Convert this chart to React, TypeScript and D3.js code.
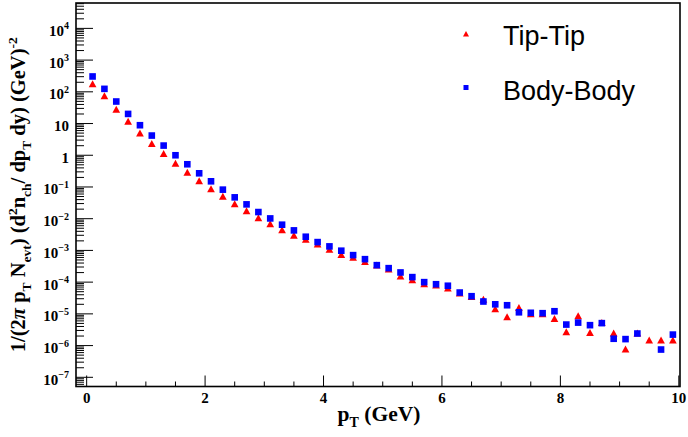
import React from "react";
import * as d3 from "d3";

const pT = [0.1, 0.3, 0.5, 0.7, 0.9, 1.1, 1.3, 1.5, 1.7, 1.9, 2.1, 2.3, 2.5, 2.7, 2.9, 3.1, 3.3, 3.5, 3.7, 3.9, 4.1, 4.3, 4.5, 4.7, 4.9, 5.1, 5.3, 5.5, 5.7, 5.9, 6.1, 6.3, 6.5, 6.7, 6.9, 7.1, 7.3, 7.5, 7.7, 7.9, 8.1, 8.3, 8.5, 8.7, 8.9, 9.1, 9.3, 9.5, 9.7, 9.9];

const tipTip = [174, 72.8, 27.7, 11.6, 4.94, 2.27, 1.1, 0.546, 0.284, 0.154,
  0.0861, 0.0495, 0.029, 0.0174, 0.0105, 0.00676, 0.00437, 0.00291, 0.00218, 0.00155,
  1.07e-3, 7.3e-4, 5.9e-4, 4.4e-4, 3.36e-4, 2.51e-4, 1.51e-4, 1.15e-4, 8.6e-5, 7.9e-5, 6.4e-5, 4.4e-5,
  3.45e-5, 2.84e-5, 1.4e-5, 7.9e-6, 1.55e-5, 9.9e-6, 9.9e-6, 6.9e-6, 2.67e-6, 8.5e-6, 2.52e-6, 5.2e-6, 2.44e-6, 7.6e-7, 2.45e-6, 1.47e-6, 1.47e-6, 1.45e-6];

const bodyBody: (number | null)[] = [305, 124, 49.5, 20.1, 8.85, 4.18, 2.02, 1.0, 0.52, 0.27,
  0.151, 0.0824, 0.0471, 0.0283, 0.0162, 0.0102, 0.00647, 0.00428, 0.0027, 0.00183,
  1.34e-3, 9.8e-4, 7.1e-4, 5.3e-4, 3.43e-4, 2.76e-4, 2.02e-4, 1.44e-4, 1.0e-4, 8.6e-5, 7.7e-5, 4.7e-5,
  3.6e-5, 2.45e-5, 2.0e-5, 1.87e-5, 1.12e-5, 1.08e-5, 1.05e-5, 1.21e-5, 4.6e-6, 5.3e-6, 4.4e-6, 5.1e-6, 1.64e-6, 1.6e-6, 2.4e-6, null, 7.5e-7, 2.22e-6];

const xTickLabels = [0, 2, 4, 6, 8, 10];
const yDecades = [4, 3, 2, 1, 0, -1, -2, -3, -4, -5, -6, -7];
const legendLabels = ["Tip-Tip", "Body-Body"];

const W = 688, H = 437;
const L = 76, R = 680, T = 3, B = 386.5;
const serif = "'Liberation Serif', 'Times New Roman', serif";
const sans = "'Liberation Sans', Arial, Helvetica, sans-serif";

export default function App() {
  const x = d3.scaleLinear().domain([-0.18, 10.02]).range([L, R]);
  const y = d3.scaleLog().domain([Math.pow(10, -7.29), Math.pow(10, 4.8)]).range([B, T]);

  const xMinor = d3.range(0, 10.01, 0.5).filter(v => Math.abs(v / 2 - Math.round(v / 2)) > 1e-6);
  const yMinor: number[] = [];
  for (let e = -8; e <= 4; e++) {
    for (let m = 2; m <= 9; m++) {
      const v = m * Math.pow(10, e);
      const py = y(v);
      if (py >= T && py <= B) yMinor.push(v);
    }
  }

  const tri = (cx: number, cy: number, s: number) =>
    `M${cx},${cy - s * 0.55}L${cx + s * 0.55},${cy + s * 0.45}L${cx - s * 0.55},${cy + s * 0.45}Z`;

  const yLabel = (e: number) => {
    if (e === 0) return <tspan>1</tspan>;
    if (e === 1) return <tspan>10</tspan>;
    return (
      <>
        <tspan>10</tspan>
        <tspan dy={-6.5} fontSize={10}>{e < 0 ? "\u2212" + Math.abs(e) : String(e)}</tspan>
      </>
    );
  };

  return (
    <svg width={W} height={H} style={{ position: "fixed", left: 0, top: 0, background: "#fff" }}>
      <rect x={0} y={0} width={W} height={H} fill="#fff" />
      {yDecades.map(e => (
        <line key={"ym" + e} x1={L} x2={L + 17} y1={y(Math.pow(10, e))} y2={y(Math.pow(10, e))} stroke="#000" strokeWidth={1} />
      ))}
      {yMinor.map((v, i) => (
        <line key={"yn" + i} x1={L} x2={L + 8} y1={y(v)} y2={y(v)} stroke="#000" strokeWidth={1} />
      ))}
      {xTickLabels.map(v => (
        <line key={"xm" + v} x1={x(v)} x2={x(v)} y1={B} y2={B - 11} stroke="#000" strokeWidth={1} />
      ))}
      {xMinor.map((v, i) => (
        <line key={"xn" + i} x1={x(v)} x2={x(v)} y1={B} y2={B - 5} stroke="#000" strokeWidth={1} />
      ))}
      <rect x={L} y={T} width={R - L} height={B - T} fill="none" stroke="#000" strokeWidth={1.6} />

      {yDecades.map(e => (
        <text key={"yl" + e} x={69} y={y(Math.pow(10, e)) + 7.5} textAnchor="end" fontFamily={serif} fontWeight="bold" fontSize={15} fill="#000">
          {yLabel(e)}
        </text>
      ))}
      {xTickLabels.map(v => (
        <text key={"xl" + v} x={x(v)} y={403} textAnchor="middle" fontFamily={serif} fontWeight="bold" fontSize={15} fill="#000">
          {v}
        </text>
      ))}

      {pT.map((p, i) => (
        <path key={"t" + i} d={tri(x(p), y(tipTip[i]), 7)} fill="#ff0000" />
      ))}
      {pT.map((p, i) =>
        bodyBody[i] == null ? null : (
          <rect key={"b" + i} x={x(p) - 3.3} y={y(bodyBody[i] as number) - 3.3} width={6.6} height={6.6} fill="#0000ff" />
        )
      )}

      <path d={tri(466, 34, 5.5)} fill="#ff0000" />
      <rect x={463.5} y={85} width={5} height={5} fill="#0000ff" />
      <text x={503} y={45} fontFamily={sans} fontSize={27} fill="#000">{legendLabels[0]}</text>
      <text x={503} y={100} fontFamily={sans} fontSize={27} fill="#000">{legendLabels[1]}</text>

      <text x={379} y={421} textAnchor="middle" fontFamily={serif} fontWeight="bold" fontSize={21.5} fill="#000">
        <tspan>p</tspan>
        <tspan dy={5.5} fontSize={14}>T</tspan>
        <tspan dy={-5.5}> (GeV)</tspan>
      </text>

      <text transform={`translate(25,${(T + B) / 2}) rotate(-90)`} textAnchor="middle" fontFamily={serif} fontWeight="bold" fontSize={20.5} fill="#000">
        <tspan>1/(2</tspan>
        <tspan fontStyle="italic">π</tspan>
        <tspan> p</tspan>
        <tspan dy={5.5} fontSize={13.5}>T</tspan>
        <tspan dy={-5.5}> N</tspan>
        <tspan dy={5.5} fontSize={13.5}>evt</tspan>
        <tspan dy={-5.5}>) (d</tspan>
        <tspan dy={-8} fontSize={13.5}>2</tspan>
        <tspan dy={8}>n</tspan>
        <tspan dy={5.5} fontSize={13.5}>ch</tspan>
        <tspan dy={-5.5}>/ dp</tspan>
        <tspan dy={5.5} fontSize={13.5}>T</tspan>
        <tspan dy={-5.5}> dy) (GeV)</tspan>
        <tspan dy={-8} fontSize={13.5}>-2</tspan>
      </text>
    </svg>
  );
}
